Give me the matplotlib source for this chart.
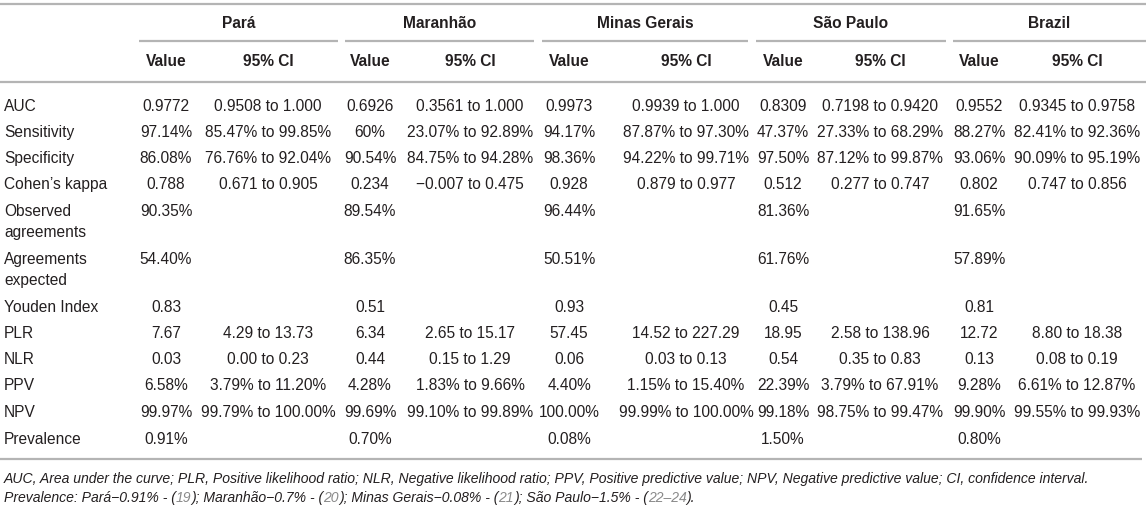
import matplotlib
matplotlib.use("Agg")
import matplotlib.pyplot as plt

# ---- data ----
regions = ["Pará", "Maranhão", "Minas Gerais", "São Paulo", "Brazil"]
sub_headers = ["Value", "95% CI"]
metrics = ["AUC", "Sensitivity", "Specificity", "Cohen’s kappa", "Observed\nagreements",
           "Agreements\nexpected", "Youden Index", "PLR", "NLR", "PPV", "NPV", "Prevalence"]

para_value = ["0.9772", "97.14%", "86.08%", "0.788", "90.35%", "54.40%", "0.83", "7.67", "0.03", "6.58%", "99.97%", "0.91%"]
para_ci = ["0.9508 to 1.000", "85.47% to 99.85%", "76.76% to 92.04%", "0.671 to 0.905", "", "", "",
           "4.29 to 13.73", "0.00 to 0.23", "3.79% to 11.20%", "99.79% to 100.00%", ""]
maranhao_value = ["0.6926", "60%", "90.54%", "0.234", "89.54%", "86.35%", "0.51", "6.34", "0.44", "4.28%", "99.69%", "0.70%"]
maranhao_ci = ["0.3561 to 1.000", "23.07% to 92.89%", "84.75% to 94.28%", "\u22120.007 to 0.475", "", "", "",
               "2.65 to 15.17", "0.15 to 1.29", "1.83% to 9.66%", "99.10% to 99.89%", ""]
minas_value = ["0.9973", "94.17%", "98.36%", "0.928", "96.44%", "50.51%", "0.93", "57.45", "0.06", "4.40%", "100.00%", "0.08%"]
minas_ci = ["0.9939 to 1.000", "87.87% to 97.30%", "94.22% to 99.71%", "0.879 to 0.977", "", "", "",
            "14.52 to 227.29", "0.03 to 0.13", "1.15% to 15.40%", "99.99% to 100.00%", ""]
sp_value = ["0.8309", "47.37%", "97.50%", "0.512", "81.36%", "61.76%", "0.45", "18.95", "0.54", "22.39%", "99.18%", "1.50%"]
sp_ci = ["0.7198 to 0.9420", "27.33% to 68.29%", "87.12% to 99.87%", "0.277 to 0.747", "", "", "",
         "2.58 to 138.96", "0.35 to 0.83", "3.79% to 67.91%", "98.75% to 99.47%", ""]
brazil_value = ["0.9552", "88.27%", "93.06%", "0.802", "91.65%", "57.89%", "0.81", "12.72", "0.13", "9.28%", "99.90%", "0.80%"]
brazil_ci = ["0.9345 to 0.9758", "82.41% to 92.36%", "90.09% to 95.19%", "0.747 to 0.856", "", "", "",
             "8.80 to 18.38", "0.08 to 0.19", "6.61% to 12.87%", "99.55% to 99.93%", ""]

footnote1 = ("AUC, Area under the curve; PLR, Positive likelihood ratio; NLR, Negative likelihood ratio; "
             "PPV, Positive predictive value; NPV, Negative predictive value; CI, confidence interval.")
footnote2_parts = [("Prevalence: Pará\u22120.91% - (", "dark"), ("19", "ref"), ("); Maranhão\u22120.7% - (", "dark"),
                   ("20", "ref"), ("); Minas Gerais\u22120.08% - (", "dark"), ("21", "ref"),
                   ("); São Paulo\u22121.5% - (", "dark"), ("22\u201324", "ref"), (").", "dark")]

values = [para_value, maranhao_value, minas_value, sp_value, brazil_value]
cis = [para_ci, maranhao_ci, minas_ci, sp_ci, brazil_ci]

# ---- layout (pixels) ----
W, H = 1146, 508
FONT = "Liberation Sans"
FS = 11.2
TXT = "#231f20"
LINE = "#b4b4b4"

value_x = [166, 370, 569, 783, 979]
ci_x = [268, 470, 686, 880, 1077]
span_rng = [(139, 338), (345, 534), (542, 748), (756, 946), (953, 1146)]
row_y = [105, 131, 157, 183, 210, 258, 306, 332, 358, 384, 411, 438]
second_line_dy = 21.5
cap_half = 5.6

fig = plt.figure(figsize=(W / 100, H / 100), dpi=100)
ax = fig.add_axes([0, 0, 1, 1])
ax.set_xlim(0, W)
ax.set_ylim(H, 0)
ax.axis("off")

def hline(y, x0, x1, lw=1.6):
    ax.plot([x0, x1], [y, y], color=LINE, lw=lw, solid_capstyle="butt")

hline(4, 0, W)
hline(82, 0, W)
hline(459, 0, 1142)
for (a, b) in span_rng:
    hline(41, a, b)

for i, r in enumerate(regions):
    cx = (span_rng[i][0] + span_rng[i][1]) / 2
    ax.text(cx, 22.5 + cap_half, r, ha="center", va="baseline", fontsize=FS,
            fontweight="bold", family=FONT, color=TXT)
    ax.text(value_x[i], 60 + cap_half, sub_headers[0], ha="center", va="baseline", fontsize=FS,
            fontweight="bold", family=FONT, color=TXT)
    ax.text(ci_x[i], 60 + cap_half, sub_headers[1], ha="center", va="baseline", fontsize=FS,
            fontweight="bold", family=FONT, color=TXT)

for j, m in enumerate(metrics):
    y = row_y[j] + cap_half
    for k, line in enumerate(m.split("\n")):
        ax.text(4, y + k * second_line_dy, line, ha="left", va="baseline", fontsize=FS,
                family=FONT, color=TXT)
    for i in range(len(regions)):
        ax.text(value_x[i], y, values[i][j], ha="center", va="baseline", fontsize=FS,
                family=FONT, color=TXT)
        if cis[i][j]:
            ax.text(ci_x[i], y, cis[i][j], ha="center", va="baseline", fontsize=FS,
                    family=FONT, color=TXT)

FS2 = 10.05
ax.text(4, 478 + 5, footnote1, ha="left", va="baseline", fontsize=FS2, style="italic",
        family=FONT, color=TXT)

fig.canvas.draw()
renderer = fig.canvas.get_renderer()
x = 4
inv = ax.transData.inverted()
for txt, kind in footnote2_parts:
    t = ax.text(x, 497 + 5, txt, ha="left", va="baseline", fontsize=FS2, style="italic",
                family=FONT, color=(TXT if kind == "dark" else "#8a8a8a"))
    bb = t.get_window_extent(renderer=renderer)
    x = inv.transform((bb.x1, bb.y0))[0]

fig.savefig("out.png", dpi=100)
